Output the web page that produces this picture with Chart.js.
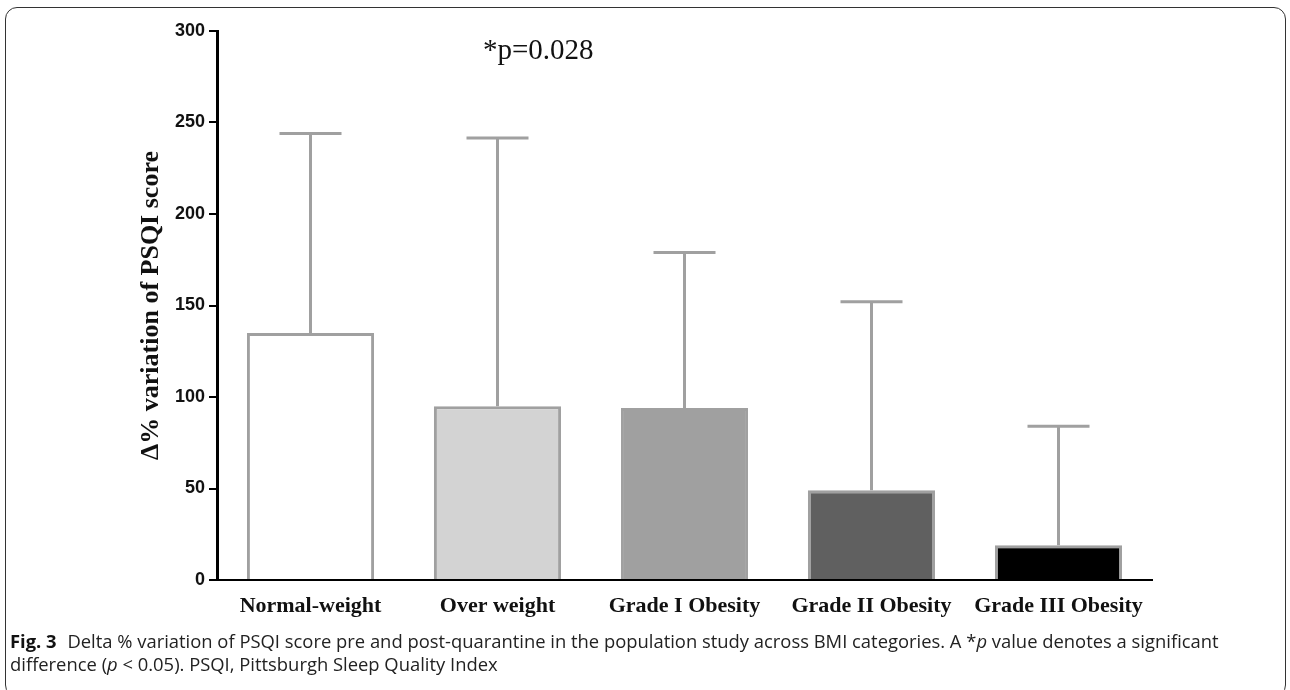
<!DOCTYPE html>
<html>
<head>
<meta charset="utf-8">
<script src="https://cdn.jsdelivr.net/npm/chart.js@4/dist/chart.umd.min.js"></script>
<style>
  html, body { margin: 0; padding: 0; background: #fff; }
  body { width: 1290px; height: 690px; position: relative; overflow: hidden; }
  #frame { position: absolute; left: 5px; top: 7px; width: 1281px; height: 690px;
           border: 1.5px solid #333; border-radius: 12px; box-sizing: border-box; }
  #wrap { position: absolute; left: 0; top: 0; width: 1290px; height: 630px; }
  #pval { position: absolute; left: 483px; top: 33px; font-family: "Liberation Serif", serif;
          font-size: 29px; color: #111; }
  #cap { position: absolute; left: 10px; top: 629px; font-family: "Open Sans", sans-serif;
         font-size: 18.4px; line-height: 23px; color: #222; white-space: nowrap; }
  #cap b { font-weight: 700; margin-right: 6px; color: #111; }
</style>
</head>
<body>
<div id="frame"></div>
<div id="wrap"><canvas id="graph" width="1290" height="630"></canvas></div>
<div id="pval">*p=0.028</div>
<div id="cap"><b>Fig. 3</b> Delta % variation of PSQI score pre and post-quarantine in the population study across BMI categories. A *<i>p</i> value denotes a significant<br>difference (<i>p</i> &lt; 0.05). PSQI, Pittsburgh Sleep Quality Index</div>
<script>
var categories = ["Normal-weight", "Over weight", "Grade I Obesity", "Grade II Obesity", "Grade III Obesity"]
var means = [135, 95, 94, 49, 19]
var sdUp = [109, 146.5, 85, 103, 65]   // error bar length above the bar
var fills = ["#ffffff", "#d3d3d3", "#a0a0a0", "#606060", "#000000"]
var yTicks = [0, 50, 100, 150, 200, 250, 300]

// error bars (upper only), drawn from the bar top
var errorBars = {
  id: "errorBars",
  afterDatasetsDraw(chart) {
    var ctx = chart.ctx
    var y = chart.scales.y
    var meta = chart.getDatasetMeta(0)
    ctx.save()
    ctx.strokeStyle = "#a0a0a0"
    ctx.lineWidth = 3
    meta.data.forEach(function (bar, i) {
      var top = y.getPixelForValue(means[i] + sdUp[i])
      var base = y.getPixelForValue(means[i])
      ctx.beginPath()
      ctx.moveTo(bar.x, base)
      ctx.lineTo(bar.x, top)
      ctx.moveTo(bar.x - 31, top)
      ctx.lineTo(bar.x + 31, top)
      ctx.stroke()
    })
    ctx.restore()
  }
}

new Chart(document.getElementById("graph"), {
  type: "bar",
  data: {
    labels: categories,
    datasets: [{
      data: means,
      backgroundColor: fills,
      borderColor: "#a0a0a0",
      borderWidth: 3,
      barPercentage: 0.68,
      categoryPercentage: 1
    }]
  },
  options: {
    responsive: false,
    animation: false,
    devicePixelRatio: 1,
    layout: { padding: { left: 136, right: 138, top: 31, bottom: 0 } },
    plugins: { legend: { display: false }, tooltip: { enabled: false } },
    scales: {
      x: {
        afterFit: function (s) { s.height = 50 },
        grid: { display: false, drawTicks: false },
        border: { display: true, color: "#000", width: 2 },
        ticks: { padding: 13, color: "#111", font: { family: "Liberation Serif", size: 22, weight: "bold" } }
      },
      y: {
        min: 0, max: 300,
        afterFit: function (s) { s.width = 81 },
        afterBuildTicks: function (s) { s.ticks = yTicks.map(function (v) { return { value: v } }) },
        grid: { drawOnChartArea: false, drawTicks: true, tickLength: 8, color: "#000", lineWidth: 2 },
        border: { display: true, color: "#000", width: 3 },
        ticks: { padding: 4, color: "#111", font: { family: "Liberation Sans", size: 18, weight: "bold" } },
        title: {
          display: true, text: "Δ% variation of PSQI score", color: "#111",
          padding: { top: 0, bottom: 0 },
          font: { family: "Liberation Serif", size: 26, weight: "bold" }
        }
      }
    }
  },
  plugins: [errorBars]
})
</script>
</body>
</html>
